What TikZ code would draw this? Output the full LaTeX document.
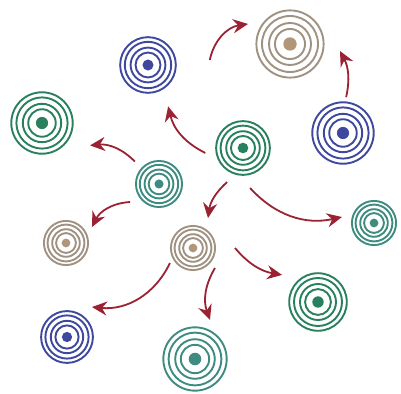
\documentclass[tikz,border=0pt]{standalone}
\usetikzlibrary{arrows.meta,calc}
\definecolor{tgreen}{RGB}{40,128,94}
\definecolor{tteal}{RGB}{62,140,128}
\definecolor{tblue}{RGB}{62,72,158}
\definecolor{tbeige}{RGB}{160,146,130}
\definecolor{tdot}{RGB}{178,150,122}
\definecolor{arrcol}{RGB}{155,34,50}
\newcommand{\mytarget}[5]{%
  \node[circle, inner sep=0pt, minimum size=2*#3pt] (#1) at (#2) {};
  \foreach \f in {0.96,0.8,0.6,0.43}{
    \draw[#4, line width=1.9pt] (#1.center) circle[radius=\f*#3];
  }
  \fill[#5] (#1.center) circle[radius=0.19*#3];
}
\tikzset{
  arr/.style={draw=arrcol, line width=1.8pt,
    -{Stealth[length=15pt,width=14pt,inset=5pt]}}
}
\begin{document}
\begin{tikzpicture}[x=1pt,y=1pt]
\fill[white] (0,0) rectangle (401,393);
\useasboundingbox (0,0) rectangle (401,393);

\mytarget{c1}{148,328}{29}{tblue}{tblue}
\mytarget{c2}{290,349}{35}{tbeige}{tdot}
\mytarget{c3}{42,270}{32}{tgreen}{tgreen}
\mytarget{c4}{243,245}{28}{tgreen}{tgreen}
\mytarget{c5}{343,260}{32}{tblue}{tblue}
\mytarget{c6}{159,209}{24}{tteal}{tteal}
\mytarget{c7}{374,170}{23}{tteal}{tteal}
\mytarget{c8}{66,150}{23}{tbeige}{tdot}
\mytarget{c9}{193,145}{23}{tbeige}{tdot}
\mytarget{c10}{318,91}{30}{tgreen}{tgreen}
\mytarget{c11}{67,56}{27}{tblue}{tblue}
\mytarget{c12}{195,34}{33}{tteal}{tteal}

\draw[arr] ($(c4)+(187.5:38)$) to[bend left=25] ($(c1)+(296:46)$);
\draw[arr] ($(c6)+(137:33)$) to[bend right=25] ($(c3)+(335:53)$);
\draw[arr] ($(c6)+(212:34)$) to[bend right=30] ($(c8)+(31.6:30.5)$);
\draw[arr] ($(c1)+(4.6:62)$) to[bend left=35] ($(c2)+(154.5:46.5)$);
\draw[arr] ($(c5)+(85:36)$) to[bend right=20] ($(c2)+(352:50.5)$);
\draw[arr] ($(c4)+(245:37.6)$) to[bend right=20] ($(c9)+(63.4:33.5)$);
\draw[arr] ($(c4)+(280:40.6)$) to[bend right=30] ($(c7)+(169.4:32.6)$);
\draw[arr] ($(c9)+(213:27.5)$) to[bend left=35] ($(c11)+(50.2:39)$);
\draw[arr] ($(c9)+(317.7:29.7)$) to[bend right=25] ($(c12)+(69:41.8)$);
\draw[arr] ($(c9)+(0:42)$) to[bend right=20] ($(c10)+(143:45)$);
\end{tikzpicture}
\end{document}
